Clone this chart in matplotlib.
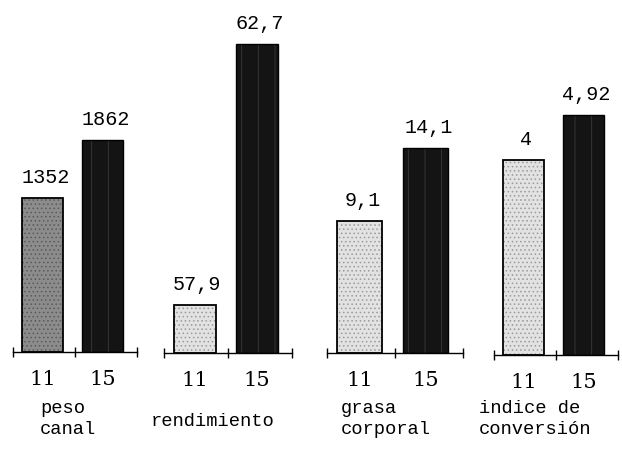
import matplotlib.pyplot as plt
import matplotlib as mpl

# values
categories = ['peso\ncanal', 'rendimiento', 'grasa\ncorporal', 'indice de\nconversión']
group_labels = ['11', '15']
values_11 = [1352, 57.9, 9.1, 4.0]
values_15 = [1862, 62.7, 14.1, 4.92]
value_text_11 = ['1352', '57,9', '9,1', '4']
value_text_15 = ['1862', '62,7', '14,1', '4,92']

# layout in pixels: (axis left, axis right, baseline y), y limits per panel
W, H = 622, 450
panels = [(13, 137, 352), (164, 292, 353), (327, 463, 353), (494, 618, 355)]
ylims = [(0, 3091), (57.01, 63.52), (0, 24.3), (0, 7.27)]
label_x = [40, 151, 341, 479]
label_y = [419, 421, 419, 419]
light_colors = ['#8c8c8c', '#e2e2e2', '#e2e2e2', '#e2e2e2']

mpl.rcParams['hatch.linewidth'] = 0.6

fig = plt.figure(figsize=(W / 100, H / 100), dpi=100)

x_pos = [0.48, 1.45]
width = 0.66

for i, cat in enumerate(categories):
    x0, x1, base = panels[i]
    ax = fig.add_axes([x0 / W, (H - base) / H, (x1 - x0) / W, base / H])
    ax.set_xlim(0, 2)
    ax.set_ylim(*ylims[i])
    vals = [values_11[i], values_15[i]]
    bottom = ylims[i][0]
    heights = [v - bottom for v in vals]

    # light stippled bar
    ax.bar(x_pos[0], heights[0], width, bottom=bottom, color=light_colors[i],
           edgecolor='#9a9a9a' if i else '#5a5a5a', linewidth=0, hatch='....')
    ax.bar(x_pos[0], heights[0], width, bottom=bottom, fill=False,
           edgecolor='black', linewidth=1.3)
    # dark speckled bar
    ax.bar(x_pos[1], heights[1], width, bottom=bottom, color='#141414',
           edgecolor='#3a3a3a', linewidth=0, hatch='|')
    ax.bar(x_pos[1], heights[1], width, bottom=bottom, fill=False,
           edgecolor='black', linewidth=1.0)

    for xp, v, t in zip(x_pos, vals, [value_text_11[i], value_text_15[i]]):
        ax.annotate(t, (xp, v), xytext=(2, 8), textcoords='offset points',
                    ha='center', va='bottom', fontsize=14.5,
                    family='Liberation Mono')

    for s in ['top', 'right', 'left']:
        ax.spines[s].set_visible(False)
    ax.spines['bottom'].set_linewidth(1.0)
    ax.set_yticks([])
    ax.set_xticks(x_pos)
    ax.set_xticklabels(group_labels, fontsize=15, family='DejaVu Serif')
    ax.tick_params(axis='x', which='major', length=0, pad=13)
    ax.set_xticks([0, 1, 2], minor=True)
    ax.tick_params(axis='x', which='minor', direction='inout', length=7,
                   width=1.0)
    ax.patch.set_visible(False)

    fig.text(label_x[i] / W, 1 - label_y[i] / H, cat, ha='left', va='center',
             fontsize=13.5, family='Liberation Mono', linespacing=1.25)

fig.savefig('out.png', dpi=100)
